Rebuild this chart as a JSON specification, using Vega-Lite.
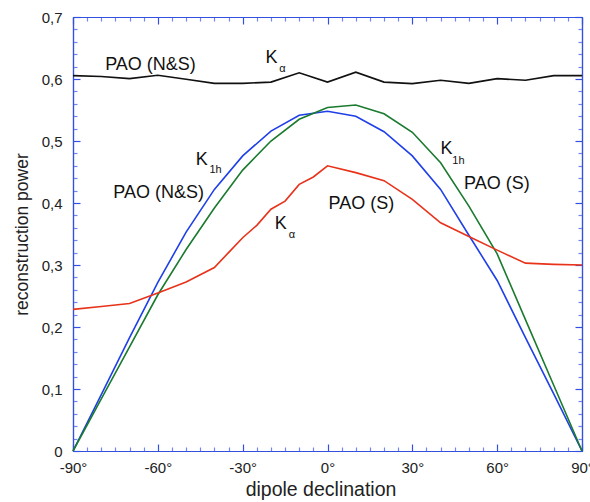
{
  "$schema": "https://vega.github.io/schema/vega-lite/v6.json",
  "width": 509,
  "height": 434,
  "autosize": {"type": "none"},
  "padding": {"left": 73, "top": 17, "right": 8, "bottom": 51},
  "background": "white",
  "config": {
    "view": {"stroke": null},
    "font": "Liberation Sans",
    "axis": {
      "domainColor": "#3350e0",
      "domainWidth": 1.2,
      "tickColor": "#3350e0",
      "tickWidth": 1.2,
      "grid": false,
      "labelFlush": false,
      "labelOverlap": false,
      "labelFont": "Liberation Sans",
      "labelColor": "#222",
      "titleFont": "Liberation Sans",
      "titleColor": "#222",
      "titleFontWeight": "normal"
    }
  },
  "datasets": {
    "black": [
      {"dec": -90, "power": 0.6055}, {"dec": -80, "power": 0.604}, {"dec": -70, "power": 0.6006},
      {"dec": -60, "power": 0.606}, {"dec": -50, "power": 0.5995}, {"dec": -40, "power": 0.593},
      {"dec": -30, "power": 0.593}, {"dec": -20, "power": 0.595}, {"dec": -10, "power": 0.61},
      {"dec": 0, "power": 0.595}, {"dec": 10, "power": 0.611}, {"dec": 20, "power": 0.595},
      {"dec": 30, "power": 0.5926}, {"dec": 40, "power": 0.598}, {"dec": 50, "power": 0.593},
      {"dec": 60, "power": 0.6006}, {"dec": 70, "power": 0.598}, {"dec": 80, "power": 0.6055},
      {"dec": 90, "power": 0.6055}
    ],
    "curves": [
      {"series": "K1h PAO (N&S)", "dec": -90, "power": 0}, {"series": "K1h PAO (N&S)", "dec": -80, "power": 0.091},
      {"series": "K1h PAO (N&S)", "dec": -70, "power": 0.183}, {"series": "K1h PAO (N&S)", "dec": -60, "power": 0.272},
      {"series": "K1h PAO (N&S)", "dec": -50, "power": 0.353}, {"series": "K1h PAO (N&S)", "dec": -40, "power": 0.422},
      {"series": "K1h PAO (N&S)", "dec": -30, "power": 0.476}, {"series": "K1h PAO (N&S)", "dec": -20, "power": 0.516},
      {"series": "K1h PAO (N&S)", "dec": -10, "power": 0.5415}, {"series": "K1h PAO (N&S)", "dec": 0, "power": 0.548},
      {"series": "K1h PAO (N&S)", "dec": 10, "power": 0.54}, {"series": "K1h PAO (N&S)", "dec": 20, "power": 0.515},
      {"series": "K1h PAO (N&S)", "dec": 30, "power": 0.476}, {"series": "K1h PAO (N&S)", "dec": 40, "power": 0.422},
      {"series": "K1h PAO (N&S)", "dec": 50, "power": 0.348}, {"series": "K1h PAO (N&S)", "dec": 60, "power": 0.275},
      {"series": "K1h PAO (N&S)", "dec": 70, "power": 0.183}, {"series": "K1h PAO (N&S)", "dec": 80, "power": 0.092},
      {"series": "K1h PAO (N&S)", "dec": 90, "power": 0},
      {"series": "K1h PAO (S)", "dec": -90, "power": 0}, {"series": "K1h PAO (S)", "dec": -80, "power": 0.084},
      {"series": "K1h PAO (S)", "dec": -70, "power": 0.168}, {"series": "K1h PAO (S)", "dec": -60, "power": 0.252},
      {"series": "K1h PAO (S)", "dec": -50, "power": 0.325}, {"series": "K1h PAO (S)", "dec": -40, "power": 0.392},
      {"series": "K1h PAO (S)", "dec": -30, "power": 0.453}, {"series": "K1h PAO (S)", "dec": -20, "power": 0.5},
      {"series": "K1h PAO (S)", "dec": -10, "power": 0.535}, {"series": "K1h PAO (S)", "dec": 0, "power": 0.554},
      {"series": "K1h PAO (S)", "dec": 10, "power": 0.558}, {"series": "K1h PAO (S)", "dec": 20, "power": 0.544},
      {"series": "K1h PAO (S)", "dec": 30, "power": 0.514}, {"series": "K1h PAO (S)", "dec": 40, "power": 0.465},
      {"series": "K1h PAO (S)", "dec": 50, "power": 0.395}, {"series": "K1h PAO (S)", "dec": 60, "power": 0.318},
      {"series": "K1h PAO (S)", "dec": 70, "power": 0.212}, {"series": "K1h PAO (S)", "dec": 80, "power": 0.106},
      {"series": "K1h PAO (S)", "dec": 90, "power": 0},
      {"series": "Ka PAO (S)", "dec": -90, "power": 0.2285}, {"series": "Ka PAO (S)", "dec": -80, "power": 0.233},
      {"series": "Ka PAO (S)", "dec": -70, "power": 0.238}, {"series": "Ka PAO (S)", "dec": -60, "power": 0.255},
      {"series": "Ka PAO (S)", "dec": -50, "power": 0.2726}, {"series": "Ka PAO (S)", "dec": -40, "power": 0.296},
      {"series": "Ka PAO (S)", "dec": -35, "power": 0.32}, {"series": "Ka PAO (S)", "dec": -30, "power": 0.344},
      {"series": "Ka PAO (S)", "dec": -25, "power": 0.364}, {"series": "Ka PAO (S)", "dec": -20, "power": 0.39},
      {"series": "Ka PAO (S)", "dec": -15, "power": 0.403}, {"series": "Ka PAO (S)", "dec": -10, "power": 0.43},
      {"series": "Ka PAO (S)", "dec": -5, "power": 0.442}, {"series": "Ka PAO (S)", "dec": 0, "power": 0.46},
      {"series": "Ka PAO (S)", "dec": 10, "power": 0.449}, {"series": "Ka PAO (S)", "dec": 20, "power": 0.436},
      {"series": "Ka PAO (S)", "dec": 30, "power": 0.406}, {"series": "Ka PAO (S)", "dec": 40, "power": 0.368},
      {"series": "Ka PAO (S)", "dec": 50, "power": 0.346}, {"series": "Ka PAO (S)", "dec": 60, "power": 0.324},
      {"series": "Ka PAO (S)", "dec": 70, "power": 0.303}, {"series": "Ka PAO (S)", "dec": 80, "power": 0.301},
      {"series": "Ka PAO (S)", "dec": 90, "power": 0.3}
    ],
    "labels": [
      {"text": "PAO (N&S)", "dec": -62.6, "power": 0.6145},
      {"text": "K", "dec": -19.8, "power": 0.6253},
      {"text": "K", "dec": -44.5, "power": 0.4613},
      {"text": "PAO (N&S)", "dec": -59.7, "power": 0.4076},
      {"text": "K", "dec": -16.5, "power": 0.3576},
      {"text": "PAO (S)", "dec": 11.95, "power": 0.39},
      {"text": "K", "dec": 42.1, "power": 0.4785},
      {"text": "PAO (S)", "dec": 59.9, "power": 0.422}
    ],
    "subs": [
      {"text": "α", "dec": -15.9, "power": 0.611},
      {"text": "1h", "dec": -39.6, "power": 0.448},
      {"text": "α", "dec": -12.6, "power": 0.344},
      {"text": "1h", "dec": 46.3, "power": 0.4635}
    ]
  },
  "layer": [
    {
      "data": {"name": "curves"},
      "mark": {"type": "line", "strokeWidth": 1.6},
      "encoding": {
        "x": {
          "field": "dec", "type": "quantitative",
          "scale": {"domain": [-90, 90], "nice": false, "zero": false},
          "axis": {
            "orient": "bottom", "values": [-90, -60, -30, 0, 30, 60, 90],
            "labelExpr": "datum.value + '°'", "tickSize": -7, "labelPadding": 16,
            "labelFontSize": 15, "title": "dipole declination", "titleFontSize": 19.5, "titlePadding": 5,
            "titleX": 247.5, "titleAlign": "center"
          }
        },
        "y": {
          "field": "power", "type": "quantitative",
          "scale": {"domain": [0, 0.7], "nice": false, "zero": true},
          "axis": {
            "orient": "left", "values": [0, 0.1, 0.2, 0.3, 0.4, 0.5, 0.6, 0.7],
            "labelExpr": "datum.value == 0 ? '0' : replace(format(datum.value, '.1f'), '.', ',')",
            "tickSize": -7, "labelPadding": 18, "labelFontSize": 15,
            "title": "reconstruction power", "titleFontSize": 17.5, "titlePadding": 10
          }
        },
        "color": {
          "field": "series", "type": "nominal",
          "scale": {"domain": ["K1h PAO (N&S)", "K1h PAO (S)", "Ka PAO (S)"], "range": ["#1f3fe8", "#1a7a2e", "#e8321a"]},
          "legend": null
        }
      }
    },
    {
      "data": {"name": "black"},
      "mark": {"type": "line", "strokeWidth": 1.6, "color": "#111"},
      "encoding": {
        "x": {
          "field": "dec", "type": "quantitative",
          "axis": {
            "orient": "bottom", "values": [-85,-80,-75,-70,-65,-55,-50,-45,-40,-35,-25,-20,-15,-10,-5,5,10,15,20,25,35,40,45,50,55,65,70,75,80,85],
            "labels": false, "tickSize": -4, "tickColor": "#7088ee", "title": null
          }
        },
        "y": {
          "field": "power", "type": "quantitative",
          "axis": {
            "orient": "left", "values": [0.02,0.04,0.06,0.08,0.12,0.14,0.16,0.18,0.22,0.24,0.26,0.28,0.32,0.34,0.36,0.38,0.42,0.44,0.46,0.48,0.52,0.54,0.56,0.58,0.62,0.64,0.66,0.68],
            "labels": false, "tickSize": -4, "tickColor": "#7088ee", "title": null
          }
        }
      }
    },
    {
      "data": {"name": "labels"},
      "mark": {"type": "text", "align": "center", "baseline": "alphabetic", "fontSize": 18, "font": "Liberation Sans", "color": "#111"},
      "encoding": {
        "x": {
          "field": "dec", "type": "quantitative",
          "axis": {"orient": "top", "values": [-90, -60, -30, 0, 30, 60, 90], "labels": false, "tickSize": -7, "title": null}
        },
        "y": {
          "field": "power", "type": "quantitative",
          "axis": {"orient": "right", "values": [0, 0.1, 0.2, 0.3, 0.4, 0.5, 0.6, 0.7], "labels": false, "tickSize": -7, "title": null}
        },
        "text": {"field": "text"}
      }
    },
    {
      "data": {"name": "subs"},
      "mark": {"type": "text", "align": "center", "baseline": "alphabetic", "fontSize": 11, "font": "Liberation Sans", "color": "#111"},
      "encoding": {
        "x": {
          "field": "dec", "type": "quantitative",
          "axis": {
            "orient": "top", "values": [-85,-80,-75,-70,-65,-55,-50,-45,-40,-35,-25,-20,-15,-10,-5,5,10,15,20,25,35,40,45,50,55,65,70,75,80,85],
            "labels": false, "tickSize": -4, "tickColor": "#7088ee", "title": null
          }
        },
        "y": {
          "field": "power", "type": "quantitative",
          "axis": {
            "orient": "right", "values": [0.02,0.04,0.06,0.08,0.12,0.14,0.16,0.18,0.22,0.24,0.26,0.28,0.32,0.34,0.36,0.38,0.42,0.44,0.46,0.48,0.52,0.54,0.56,0.58,0.62,0.64,0.66,0.68],
            "labels": false, "tickSize": -4, "tickColor": "#7088ee", "title": null
          }
        },
        "text": {"field": "text"}
      }
    }
  ],
  "resolve": {"axis": {"x": "independent", "y": "independent"}}
}
